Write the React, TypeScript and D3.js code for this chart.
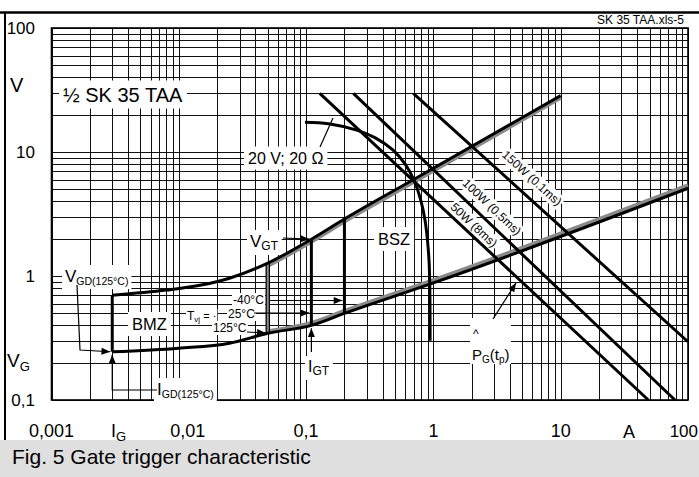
import React, { useEffect, useRef } from 'react';
import * as d3 from 'd3';

type Pt = [number, number];

// axes (I in A, V in V)
const xTickValues = [0.001, 0.01, 0.1, 1, 10, 100];
const xTickLabels = ['0,001', '0,01', '0,1', '1', '10', '100'];
const yTickValues = [0.1, 1, 10, 100];
const yTickLabels = ['0,1', '1', '10', '100'];

// upper limit of the gate characteristic
const upperLimit: Pt[] = [
  [0.003, 0.7], [0.008, 0.77], [0.015, 0.845], [0.025, 0.96], [0.05, 1.27],
  [0.11, 1.98], [0.2, 2.88], [0.7, 6.0], [10, 28.5],
];
const upperShade: Pt[] = [[0.05, 1.2], [0.11, 1.88], [0.2, 2.74], [0.7, 5.7], [10, 27.2]];

// lower limit of the gate characteristic
const lowerLimit: Pt[] = [
  [0.003, 0.245], [0.01, 0.262], [0.025, 0.287], [0.05, 0.345], [0.11, 0.4],
  [0.2, 0.5], [1, 0.88], [100, 5.1],
];
const lowerShade: Pt[] = [[0.05, 0.36], [0.11, 0.42], [0.2, 0.525], [1, 0.93], [100, 5.4]];

// I_GT at 125 °C, 25 °C, -40 °C
const igtCurrents = [0.05, 0.11, 0.2];
const igtTop = [1.27, 1.98, 2.88];
const igtBottom = [0.345, 0.4, 0.5];

// I_GD / V_GD (125 °C)
const igdLine: Pt[] = [[0.003, 0.245], [0.003, 0.7]];

// 20 V; 20 Ohm load line
const loadLine: Pt[] = [
  [0.098, 17.4], [0.15, 16.9], [0.25, 15], [0.35, 13], [0.48, 10.4], [0.6, 8],
  [0.7, 6], [0.8, 4], [0.86, 2.8], [0.9, 1.9], [0.925, 1.3], [0.935, 0.9],
  [0.94, 0.6], [0.942, 0.3],
];

// max. gate power lines
const powerLabels = ['50W (8ms)', '100W (0.5ms)', '150W (0.1ms)'];
const powerLines: Pt[][] = [
  [[0.128, 29.7], [48.8, 0.1]],
  [[0.235, 29.7], [79, 0.1]],
  [[0.695, 29.7], [100, 0.295]],
];

const FONT = '"Liberation Sans", Arial, Helvetica, sans-serif';

type Part = { t: string; size?: number; dy?: number };

const GateTriggerChart: React.FC = () => {
  const svgRef = useRef<SVGSVGElement>(null);

  useEffect(() => {
    if (!svgRef.current) return;
    const svg = d3.select(svgRef.current);
    svg.selectAll('*').remove();

    const x = d3.scaleLog().domain([0.001, 100]).range([51.5, 688]);
    const y = d3.scaleLog().domain([0.1, 100]).range([400, 28]);

    const defs = svg.append('defs');
    defs.append('marker')
      .attr('id', 'arrow')
      .attr('viewBox', '0 0 10 8')
      .attr('refX', 10)
      .attr('refY', 4)
      .attr('markerWidth', 10)
      .attr('markerHeight', 7)
      .attr('markerUnits', 'userSpaceOnUse')
      .attr('orient', 'auto')
      .append('path')
      .attr('d', 'M0,0L10,4L0,8Z')
      .attr('fill', '#000');

    // page frame and caption band
    svg.append('rect').attr('width', 699).attr('height', 477).attr('fill', '#fff');
    svg.append('rect').attr('x', 0).attr('y', 440).attr('width', 699).attr('height', 37).attr('fill', '#dfdfdf');
    svg.append('line').attr('x1', 0).attr('x2', 699).attr('y1', 12.5).attr('y2', 12.5)
      .attr('stroke', '#000').attr('stroke-width', 2.5);
    svg.append('line').attr('x1', 5).attr('x2', 5).attr('y1', 12).attr('y2', 440)
      .attr('stroke', '#000').attr('stroke-width', 2);

    // grid
    const xGrid: number[] = [];
    for (let e = -3; e < 2; e++) for (let m = 1; m < 10; m++) xGrid.push(m * Math.pow(10, e));
    xGrid.push(100);
    const yGrid: number[] = [];
    for (let e = -1; e < 2; e++) for (let m = 1; m < 10; m++) yGrid.push(m * Math.pow(10, e));
    yGrid.push(100);

    const grid = svg.append('g').attr('shape-rendering', 'crispEdges').attr('stroke', '#111').attr('stroke-width', 1);
    grid.selectAll('.gx').data(xGrid).enter().append('line')
      .attr('x1', d => Math.round(x(d)) + 0.5).attr('x2', d => Math.round(x(d)) + 0.5)
      .attr('y1', y(100)).attr('y2', y(0.1));
    grid.selectAll('.gy').data(yGrid).enter().append('line')
      .attr('y1', d => Math.round(y(d)) + 0.5).attr('y2', d => Math.round(y(d)) + 0.5)
      .attr('x1', x(0.001)).attr('x2', x(100));
    svg.append('rect')
      .attr('x', x(0.001)).attr('y', y(100))
      .attr('width', x(100) - x(0.001)).attr('height', y(0.1) - y(100))
      .attr('fill', 'none').attr('stroke', '#000').attr('stroke-width', 1.6);

    const boxLayer = svg.append('g');
    const curveLayer = svg.append('g').attr('fill', 'none').attr('stroke-linecap', 'butt');
    const arrowLayer = svg.append('g');
    const textLayer = svg.append('g').attr('font-family', FONT).attr('fill', '#000');

    const addText = (
      tx: number, ty: number, parts: Part[],
      opts: { size?: number; anchor?: string; box?: boolean; pad?: number; rotate?: number } = {}
    ) => {
      const size = opts.size ?? 16;
      const transform = `translate(${tx},${ty})` + (opts.rotate ? ` rotate(${opts.rotate})` : '');
      const g = textLayer.append('g').attr('transform', transform);
      const t = g.append('text')
        .attr('text-anchor', opts.anchor ?? 'start')
        .attr('font-size', size);
      parts.forEach(p => {
        t.append('tspan').attr('font-size', p.size ?? size).attr('dy', p.dy ?? 0).text(p.t);
      });
      if (opts.box) {
        const bb = (t.node() as SVGTextElement).getBBox();
        const pad = opts.pad ?? 3;
        boxLayer.append('g').attr('transform', transform).append('rect')
          .attr('x', bb.x - pad).attr('y', bb.y - pad + 1)
          .attr('width', bb.width + pad * 2).attr('height', bb.height + pad * 2 - 2)
          .attr('fill', '#fff');
      }
      return t;
    };

    // tick labels
    xTickValues.forEach((v, i) => {
      const last = i === xTickValues.length - 1;
      addText(last ? 698 : x(v) + (v === 0.01 ? 9 : 0), 437, [{ t: xTickLabels[i] }],
        { size: last ? 17 : 18, anchor: last ? 'end' : 'middle' });
    });
    yTickValues.forEach((v, i) => {
      addText(35, y(v) + 6, [{ t: yTickLabels[i] }], { size: 17, anchor: 'end' });
    });
    addText(10, 91.5, [{ t: 'V' }], { size: 20 });
    addText(7, 367, [{ t: 'V' }, { t: 'G', size: 13, dy: 4 }], { size: 19 });
    addText(111, 437, [{ t: 'I' }, { t: 'G', size: 13, dy: 4 }], { size: 18 });
    addText(623, 438, [{ t: 'A' }], { size: 18 });

    addText(684, 24, [{ t: 'SK 35 TAA.xls-5' }], { size: 12, anchor: 'end' });
    addText(12, 464, [{ t: 'Fig. 5 Gate trigger characteristic' }], { size: 21 });

    // annotations
    addText(63, 101.5, [{ t: '½ SK 35 TAA' }], { size: 20, box: true, pad: 4 });
    addText(248, 163.5, [{ t: '20 V; 20 Ω' }], { size: 16, box: true, pad: 4 });
    addText(250, 247, [{ t: 'V' }, { t: 'GT', size: 12, dy: 3 }], { size: 17, box: true, pad: 3 });
    addText(378, 245, [{ t: 'BSZ' }], { size: 16.5, box: true, pad: 4 });
    addText(132, 330, [{ t: 'BMZ' }], { size: 16.5, box: true, pad: 4 });
    addText(65, 282, [{ t: 'V' }, { t: 'GD(125°C)', size: 10.5, dy: 3 }], { size: 17, box: true, pad: 3 });
    addText(157, 395, [{ t: 'I' }, { t: 'GD(125°C)', size: 10.5, dy: 3 }], { size: 17, box: true, pad: 3 });
    addText(308, 372, [{ t: 'I' }, { t: 'GT', size: 12, dy: 3 }], { size: 16, box: true, pad: 3 });
    addText(187, 320, [{ t: 'T' }, { t: 'vj', size: 8, dy: 2 }, { t: ' = ·', size: 11, dy: -2 }], { size: 12, box: true, pad: 1 });
    addText(233, 304, [{ t: '-40°C' }], { size: 12, box: true, pad: 1 });
    addText(228, 318, [{ t: '25°C' }], { size: 12, box: true, pad: 1 });
    addText(213, 332, [{ t: '125°C' }], { size: 12, box: true, pad: 1 });
    boxLayer.append('rect').attr('x', 470).attr('y', 318).attr('width', 41).attr('height', 46).attr('fill', '#fff');
    addText(473, 338, [{ t: '^' }], { size: 12 });
    addText(472, 360, [
      { t: 'P' }, { t: 'G', size: 10, dy: 3 }, { t: '(t', size: 15, dy: -3 },
      { t: 'p', size: 10, dy: 3 }, { t: ')', size: 15, dy: -3 },
    ], { size: 15 });

    // power line labels, rotated along their lines
    const powerCentres: Pt[] = [[474, 225], [492, 207], [532, 178]];
    powerLines.forEach((ln, i) => {
      const ang = Math.atan2(y(ln[1][1]) - y(ln[0][1]), x(ln[1][0]) - x(ln[0][0])) * 180 / Math.PI;
      addText(powerCentres[i][0], powerCentres[i][1], [{ t: powerLabels[i], dy: 4.2 }],
        { size: 12, anchor: 'middle', rotate: ang, box: true, pad: 1.5 });
    });

    // curves
    const line = d3.line<Pt>().x(d => x(d[0])).y(d => y(d[1]));
    const smooth = d3.line<Pt>().x(d => x(d[0])).y(d => y(d[1])).curve(d3.curveMonotoneX);
    const catmull = d3.line<Pt>().x(d => x(d[0])).y(d => y(d[1])).curve(d3.curveCatmullRom.alpha(0.5));

    curveLayer.append('path').datum(upperShade).attr('d', smooth).attr('stroke', '#8a8a8a').attr('stroke-width', 3.5);
    curveLayer.append('path').datum(lowerShade).attr('d', smooth).attr('stroke', '#8a8a8a').attr('stroke-width', 3.5);

    igtCurrents.forEach((c, i) => {
      curveLayer.append('line')
        .attr('x1', x(c)).attr('x2', x(c)).attr('y1', y(igtTop[i])).attr('y2', y(igtBottom[i]))
        .attr('stroke', '#000').attr('stroke-width', i === 0 ? 4.5 : 3);
      if (i === 0) {
        curveLayer.append('line')
          .attr('x1', x(c)).attr('x2', x(c)).attr('y1', y(igtTop[i])).attr('y2', y(igtBottom[i]))
          .attr('stroke', '#8a8a8a').attr('stroke-width', 2);
      }
    });
    curveLayer.append('path').datum(igdLine).attr('d', line).attr('stroke', '#000').attr('stroke-width', 3);
    curveLayer.append('path').datum(upperLimit).attr('d', smooth).attr('stroke', '#000').attr('stroke-width', 3);
    curveLayer.append('path').datum(lowerLimit).attr('d', smooth).attr('stroke', '#000').attr('stroke-width', 3);
    curveLayer.append('path').datum(loadLine).attr('d', catmull).attr('stroke', '#000').attr('stroke-width', 3);
    powerLines.forEach(ln => {
      curveLayer.append('path').datum(ln).attr('d', line).attr('stroke', '#000').attr('stroke-width', 3);
    });

    // arrows and leaders
    const arrow = (pts: Pt[], head = true) => {
      arrowLayer.append('path')
        .attr('d', d3.line()(pts))
        .attr('fill', 'none').attr('stroke', '#000').attr('stroke-width', 1.2)
        .attr('marker-end', head ? 'url(#arrow)' : null);
    };
    arrow([[77, 285], [80, 350], [x(0.003) - 2, y(0.245)]]);
    arrow([[157, 390], [x(0.003), 390], [x(0.003), y(0.245) + 3]]);
    arrow([[283, 238], [x(0.11) - 2, y(1.98)]]);
    arrow([[x(0.11), 352], [x(0.11), y(0.4) + 3]]);
    arrow([[x(0.05) + 2, 300.5], [x(0.2) - 2, 300.5]]);
    arrow([[254, 313], [x(0.11) - 2, 313]]);
    arrow([[247, 332], [x(0.05) - 2, 333]]);
    arrow([[493, 319], [516, 283]]);
    arrow([[320, 147], [333, 118]], false);
  }, []);

  return (
    <svg
      ref={svgRef}
      width={699}
      height={477}
      style={{ position: 'absolute', left: 0, top: 0, display: 'block' }}
    />
  );
};

export default function App() {
  return <GateTriggerChart />;
}
